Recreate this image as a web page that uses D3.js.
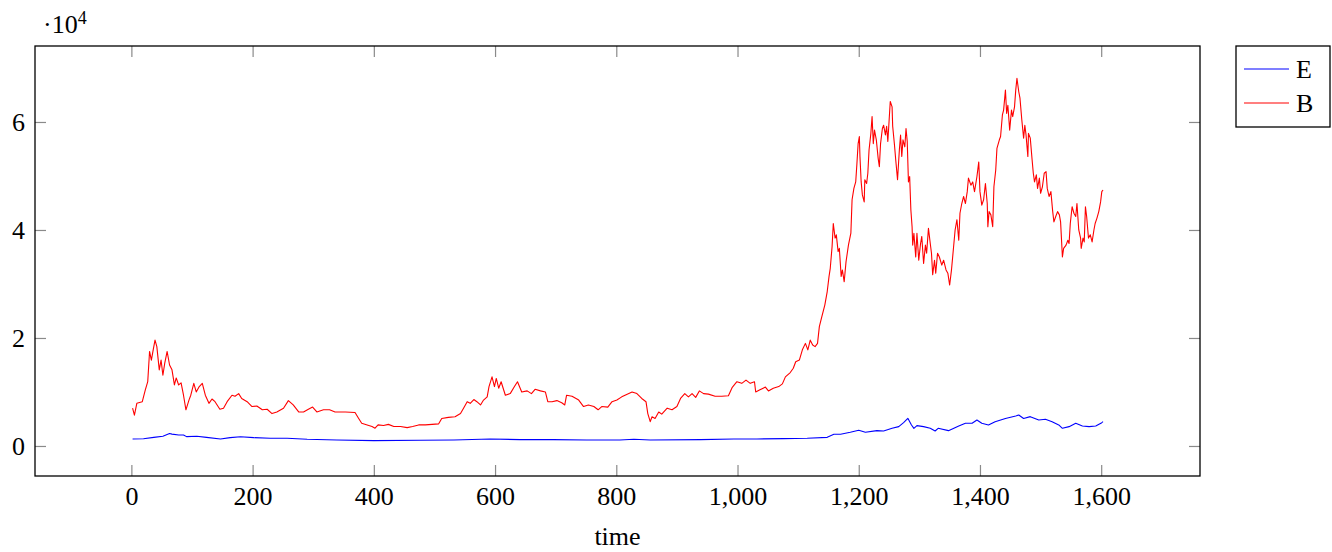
<!DOCTYPE html>
<html>
<head>
<meta charset="utf-8">
<script src="https://cdn.jsdelivr.net/npm/d3@7"></script>
<style>
  html, body { margin: 0; padding: 0; background: #fff; }
  svg { display: block; }
  text { font-family: "Liberation Serif", "DejaVu Serif", serif; fill: #000; }
</style>
</head>
<body>
<svg id="chart" width="1332" height="552"></svg>
<script>
// ---- data ----
const seriesNames = ["E", "B"];
const seriesColors = ["#0000ff", "#ff0000"];

const eTime = [2, 20, 37, 52, 63, 67, 78, 86, 91, 108, 124, 147, 163, 180, 202, 229, 257, 290, 339, 400, 477, 532, 592, 641, 696, 751, 806, 829, 856, 939, 994, 1032, 1076, 1115, 1148, 1159, 1170, 1186, 1200, 1211, 1230, 1241, 1255, 1266, 1274, 1281, 1287, 1291, 1296, 1307, 1318, 1326, 1331, 1348, 1365, 1376, 1387, 1395, 1403, 1414, 1425, 1442, 1459, 1464, 1472, 1483, 1497, 1508, 1519, 1530, 1536, 1547, 1558, 1569, 1580, 1591, 1601, 1603];
const eValue = [1300, 1350, 1600, 1800, 2300, 2200, 2040, 2040, 1730, 1790, 1600, 1300, 1540, 1700, 1540, 1420, 1420, 1240, 1110, 990, 1050, 1110, 1300, 1170, 1170, 1110, 1110, 1240, 1110, 1170, 1300, 1300, 1360, 1420, 1600, 2160, 2160, 2530, 2900, 2530, 2840, 2780, 3270, 3580, 4320, 5120, 3890, 3270, 3770, 3580, 3270, 2780, 3270, 2840, 3700, 4200, 4200, 4800, 4200, 3900, 4500, 5100, 5550, 5740, 5100, 5430, 4800, 4940, 4500, 3890, 3270, 3580, 4200, 3700, 3580, 3700, 4320, 4500];

const bTime = [2, 5, 9, 18, 23, 27, 30, 33, 36, 39, 42, 46, 49, 52, 55, 59, 63, 67, 71, 74, 78, 82, 86, 90, 95, 98, 103, 107, 112, 117, 122, 128, 133, 138, 146, 152, 158, 166, 171, 177, 182, 191, 199, 207, 216, 224, 232, 240, 251, 259, 267, 276, 284, 292, 299, 306, 317, 327, 336, 353, 369, 375, 380, 389, 397, 402, 407, 416, 424, 433, 444, 455, 464, 474, 485, 496, 507, 512, 523, 534, 543, 548, 554, 559, 565, 570, 576, 581, 587, 590, 595, 599, 602, 606, 610, 617, 625, 632, 637, 644, 653, 660, 666, 675, 683, 687, 694, 702, 710, 715, 718, 727, 738, 746, 754, 763, 770, 776, 786, 793, 801, 809, 818, 826, 834, 842, 849, 852, 856, 859, 864, 870, 875, 884, 892, 900, 906, 913, 919, 925, 931, 937, 944, 952, 963, 974, 985, 991, 999, 1007, 1014, 1021, 1028, 1030, 1037, 1046, 1051, 1059, 1068, 1074, 1079, 1087, 1092, 1096, 1102, 1107, 1112, 1116, 1120, 1124, 1128, 1132, 1135, 1139, 1144, 1148, 1151, 1153, 1156, 1158, 1161, 1163, 1166, 1168, 1171, 1173, 1176, 1179, 1183, 1187, 1189, 1192, 1195, 1197, 1199, 1201, 1202, 1204, 1206, 1209, 1210, 1213, 1215, 1217, 1220, 1222, 1224, 1226, 1229, 1232, 1234, 1236, 1239, 1241, 1244, 1246, 1248, 1250, 1252, 1255, 1256, 1259, 1261, 1264, 1267, 1269, 1271, 1273, 1276, 1278, 1280, 1282, 1284, 1286, 1288, 1289, 1291, 1294, 1296, 1299, 1302, 1304, 1307, 1310, 1312, 1315, 1318, 1320, 1322, 1325, 1327, 1330, 1333, 1337, 1340, 1344, 1347, 1350, 1353, 1356, 1359, 1362, 1365, 1367, 1370, 1373, 1376, 1379, 1381, 1385, 1388, 1391, 1395, 1398, 1400, 1403, 1406, 1409, 1412, 1413, 1415, 1418, 1421, 1423, 1426, 1428, 1432, 1434, 1437, 1439, 1442, 1444, 1446, 1449, 1452, 1454, 1457, 1459, 1461, 1464, 1466, 1469, 1472, 1474, 1476, 1479, 1480, 1483, 1486, 1488, 1490, 1493, 1495, 1498, 1500, 1503, 1506, 1509, 1511, 1514, 1517, 1520, 1522, 1525, 1528, 1531, 1533, 1536, 1538, 1542, 1545, 1547, 1549, 1552, 1555, 1558, 1560, 1563, 1566, 1567, 1570, 1572, 1574, 1576, 1579, 1582, 1585, 1588, 1590, 1593, 1596, 1599, 1601, 1603];
const bValue = [7000, 5700, 7900, 8200, 10400, 11900, 17500, 15900, 17800, 19600, 18400, 14100, 15900, 13100, 15300, 17500, 15000, 14100, 11300, 12600, 11300, 11700, 9400, 6700, 8500, 9400, 11600, 10000, 11000, 11600, 9400, 7900, 8700, 8200, 6800, 7000, 8200, 9400, 9200, 9700, 8800, 8200, 7300, 7400, 6700, 6800, 6000, 6300, 7000, 8400, 7600, 6300, 6300, 6800, 7200, 6300, 6700, 6700, 6300, 6300, 6200, 5100, 4200, 3900, 3600, 3300, 3900, 3800, 4000, 3600, 3600, 3400, 3600, 3900, 3900, 4000, 4100, 5100, 5300, 5400, 6000, 7000, 8200, 7900, 8600, 8200, 7600, 8500, 9100, 11000, 12800, 11000, 12500, 10700, 11900, 9400, 9700, 11000, 11900, 10000, 10200, 9700, 10500, 10200, 10000, 8200, 8200, 8400, 8000, 7600, 9400, 9200, 8500, 7300, 7600, 7300, 6700, 7300, 7200, 8200, 8500, 9100, 9600, 10000, 9700, 8800, 8200, 6000, 4500, 5400, 5100, 6300, 5900, 7000, 6700, 7300, 8800, 9700, 9100, 9700, 9000, 10200, 9700, 9600, 9200, 9200, 9300, 10800, 11900, 11600, 12200, 11600, 11900, 10000, 10400, 10900, 10200, 10700, 11000, 11500, 12800, 13600, 14400, 15600, 15900, 17800, 19000, 17800, 19600, 18700, 18400, 19000, 22100, 23900, 26100, 28600, 31400, 32900, 36900, 41200, 38500, 39100, 36000, 36600, 31400, 32600, 30400, 34100, 37200, 39400, 45600, 47700, 48900, 52300, 56000, 57300, 53600, 48900, 46500, 45200, 49300, 48600, 50500, 54800, 57900, 61000, 56000, 58500, 56700, 53300, 51700, 56000, 58800, 59400, 57600, 59200, 56400, 60100, 63800, 62800, 59200, 55700, 53000, 49300, 54800, 57600, 53600, 56700, 55400, 58800, 56400, 48900, 49900, 43700, 40600, 37200, 39400, 35000, 39400, 34400, 37500, 38800, 33800, 37200, 35700, 40300, 37500, 35700, 31700, 34400, 32000, 35700, 35000, 33500, 34400, 32600, 32000, 29800, 32600, 36300, 40000, 41900, 38100, 43100, 44900, 46200, 44900, 47100, 49600, 48300, 48900, 47100, 49900, 52600, 47100, 44600, 45600, 48600, 44900, 40600, 43400, 42800, 40600, 48000, 51100, 55100, 56700, 57300, 61300, 62200, 65900, 61600, 63100, 58500, 62200, 61000, 62800, 65900, 68100, 65600, 64400, 60400, 57000, 59400, 57600, 53600, 57900, 57000, 53000, 50500, 48900, 50200, 47700, 49600, 46800, 48000, 50500, 50800, 47700, 46200, 47100, 43400, 41500, 42500, 43400, 42800, 41500, 35000, 36600, 37200, 38100, 37500, 41200, 44300, 43100, 42500, 44900, 40000, 38500, 36600, 38500, 37800, 44300, 42500, 38500, 39100, 37800, 40000, 41200, 42200, 43400, 45200, 47100, 47400];

const xTickValues = [0, 200, 400, 600, 800, 1000, 1200, 1400, 1600];
const yTickValues = [0, 20000, 40000, 60000];
const xDomain = [-159, 1763];
const yDomain = [-5560, 74070];
const xAxisTitle = "time";

// ---- layout ----
const plot = { left: 35, right: 1200, top: 46, bottom: 476 };
const tickLen = 11;
const tickColor = "#8a8a8a";
const fontSize = 26;

const svg = d3.select("#chart");
const x = d3.scaleLinear().domain(xDomain).range([plot.left, plot.right]);
const y = d3.scaleLinear().domain(yDomain).range([plot.bottom, plot.top]);

const xAxisB = d3.axisBottom(x).tickValues(xTickValues).tickFormat(d3.format(",")).tickSize(-tickLen).tickPadding(11);
const xAxisT = d3.axisTop(x).tickValues(xTickValues).tickFormat("").tickSize(-tickLen);
const yAxisL = d3.axisLeft(y).tickValues(yTickValues).tickFormat(d => d / 10000).tickSize(-tickLen).tickPadding(10);
const yAxisR = d3.axisRight(y).tickValues(yTickValues).tickFormat("").tickSize(-tickLen);

function styleAxis(g) {
  g.select(".domain").remove();
  g.selectAll(".tick line").attr("stroke", tickColor).attr("stroke-width", 1.2);
  g.selectAll(".tick text").attr("font-size", fontSize).attr("font-family", "Liberation Serif, DejaVu Serif, serif").attr("fill", "#000");
}

svg.append("g").attr("transform", `translate(0,${plot.bottom})`).call(xAxisB).call(styleAxis);
svg.append("g").attr("transform", `translate(0,${plot.top})`).call(xAxisT).call(styleAxis);
svg.append("g").attr("transform", `translate(${plot.left},0)`).call(yAxisL).call(styleAxis);
svg.append("g").attr("transform", `translate(${plot.right},0)`).call(yAxisR).call(styleAxis);

// series
const series = [
  { name: seriesNames[0], color: seriesColors[0], pts: eTime.map((t, i) => [t, eValue[i]]) },
  { name: seriesNames[1], color: seriesColors[1], pts: bTime.map((t, i) => [t, bValue[i]]) }
];
const line = d3.line().x(d => x(d[0])).y(d => y(d[1]));
svg.append("g").selectAll("path").data(series).join("path")
  .attr("d", d => line(d.pts))
  .attr("fill", "none")
  .attr("stroke", d => d.color)
  .attr("stroke-width", 1.1)
  .attr("stroke-linejoin", "round");

// frame
svg.append("rect")
  .attr("x", plot.left).attr("y", plot.top)
  .attr("width", plot.right - plot.left).attr("height", plot.bottom - plot.top)
  .attr("fill", "none").attr("stroke", "#000").attr("stroke-width", 1.3);

// scale label ·10^4
const sc = svg.append("text").attr("x", 43).attr("y", 33).attr("font-size", fontSize);
sc.append("tspan").text("·10");
sc.append("tspan").attr("font-size", 18).attr("dy", -9).text("4");

// x axis title
svg.append("text").attr("x", (plot.left + plot.right) / 2).attr("y", 545)
  .attr("text-anchor", "middle").attr("font-size", fontSize).text(xAxisTitle);

// legend
const lg = svg.append("g");
lg.append("rect").attr("x", 1236).attr("y", 46).attr("width", 94).attr("height", 81)
  .attr("fill", "#fff").attr("stroke", "#000").attr("stroke-width", 1.3);
series.forEach((s, i) => {
  const cy = 69 + i * 34;
  lg.append("line").attr("x1", 1244).attr("x2", 1289).attr("y1", cy).attr("y2", cy)
    .attr("stroke", s.color).attr("stroke-width", 1.1);
  lg.append("text").attr("x", 1296).attr("y", cy + 9).attr("font-size", fontSize).text(s.name);
});
</script>
</body>
</html>
